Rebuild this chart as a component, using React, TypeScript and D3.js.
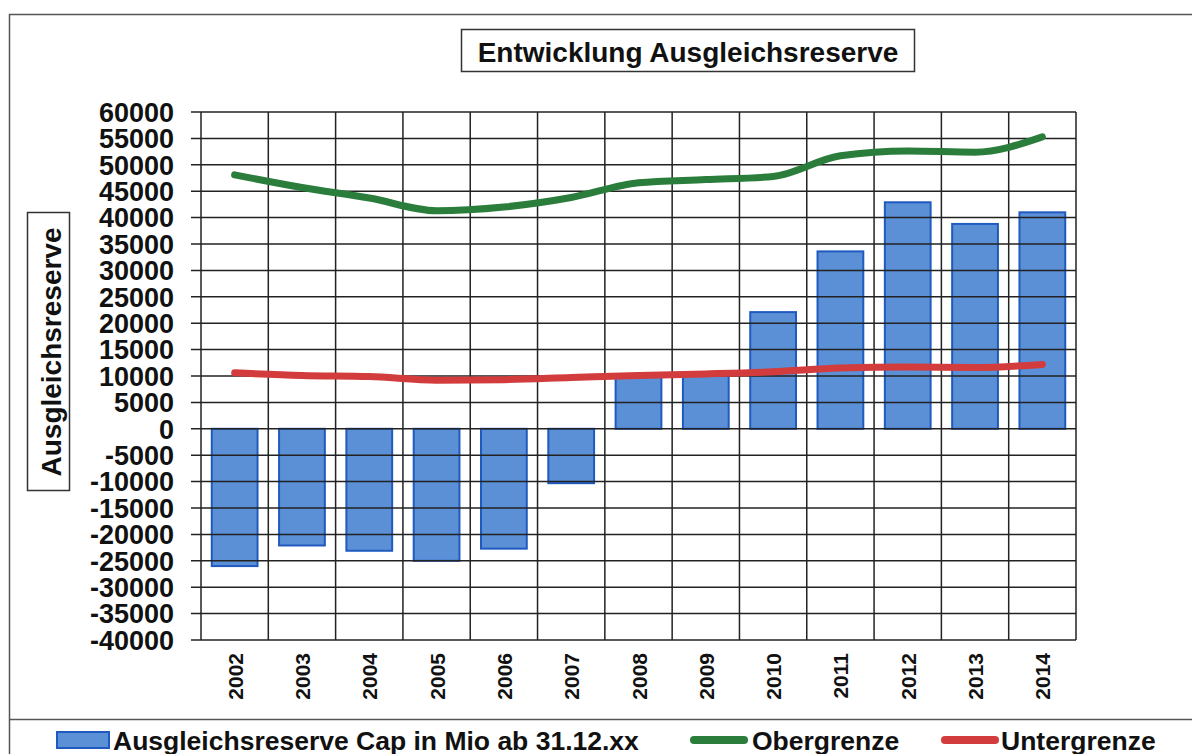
import React from "react";
import { scaleBand, scaleLinear, line, curveMonotoneX, range } from "d3";

const years = ["2002", "2003", "2004", "2005", "2006", "2007", "2008", "2009", "2010", "2011", "2012", "2013", "2014"];
const reserve = [-26000, -22100, -23100, -25000, -22700, -10300, 10000, 10200, 22100, 33600, 42900, 38800, 41000];
const obergrenze = [48100, 45700, 43700, 41300, 42000, 43800, 46600, 47200, 47800, 51700, 52600, 52400, 55300];
const untergrenze = [10600, 10100, 9900, 9200, 9300, 9700, 10100, 10400, 10800, 11500, 11700, 11600, 12200];
const yTicks = range(-40000, 60001, 5000);

const width = 1192;
const height = 754;
const plot = { left: 201, right: 1076, top: 112, bottom: 640 };
const font = "'Liberation Sans', Arial, sans-serif";

const App = () => {
	const xScale = scaleBand().domain(years).range([plot.left, plot.right]).padding(0);
	const yScale = scaleLinear().domain([-40000, 60000]).range([plot.bottom, plot.top]);
	const barW = xScale.bandwidth() * 0.68;
	const cx = (y: string) => (xScale(y) as number) + xScale.bandwidth() / 2;

	const lineGen = line<number>()
		.x((d, i) => cx(years[i]))
		.y((d) => yScale(d))
		.curve(curveMonotoneX);

	return (
		<svg width={width} height={height} style={{ position: "absolute", left: 0, top: 0, background: "#fff" }} fontFamily={font}>
			{/* outer frame + legend separator */}
			<rect x={9.5} y={14.5} width={1200} height={800} fill="none" stroke="#555" strokeWidth={1.5} />
			<line x1={9} x2={1200} y1={719.5} y2={719.5} stroke="#555" strokeWidth={1.5} />

			{/* title */}
			<rect x={461.5} y={29.5} width={453} height={42} fill="#fff" stroke="#333" strokeWidth={1.5} />
			<text x={688} y={62} textAnchor="middle" fontSize={28} fontWeight="bold" fill="#111">
				Entwicklung Ausgleichsreserve
			</text>

			{/* y axis title */}
			<rect x={27.5} y={212.5} width={42} height={278} fill="#fff" stroke="#333" strokeWidth={1.5} />
			<text transform={`translate(61,352) rotate(-90)`} textAnchor="middle" fontSize={28} fontWeight="bold" fill="#111">
				Ausgleichsreserve
			</text>

			{/* bars */}
			{reserve.map((v, i) => (
				<rect
					key={years[i]}
					x={cx(years[i]) - barW / 2}
					y={yScale(Math.max(0, v))}
					width={barW}
					height={Math.abs(yScale(v) - yScale(0))}
					fill="#5b8fd6"
					stroke="#1f5bbf"
					strokeWidth={2}
				/>
			))}

			{/* grid */}
			{yTicks.map((t) => (
				<g key={t}>
					<line x1={plot.left - 10} x2={plot.right} y1={yScale(t)} y2={yScale(t)} stroke="#222" strokeWidth={1.5} />
					<text x={174} y={yScale(t)} dy=".36em" textAnchor="end" fontSize={27} fontWeight="bold" fill="#111">
						{t}
					</text>
				</g>
			))}
			{years.map((y) => (
				<line key={y} x1={xScale(y)} x2={xScale(y)} y1={plot.top} y2={plot.bottom} stroke="#222" strokeWidth={1.5} />
			))}
			<line x1={plot.right} x2={plot.right} y1={plot.top} y2={plot.bottom} stroke="#222" strokeWidth={1.5} />

			{/* lines */}
			<path d={lineGen(obergrenze) || ""} fill="none" stroke="#2b7d3b" strokeWidth={7} strokeLinecap="round" />
			<path d={lineGen(untergrenze) || ""} fill="none" stroke="#d23c3c" strokeWidth={7} strokeLinecap="round" />

			{/* x labels */}
			{years.map((y) => (
				<text key={y} transform={`translate(${cx(y) + 8},653) rotate(-90)`} textAnchor="end" fontSize={21} fontWeight="bold" fill="#111">
					{y}
				</text>
			))}

			{/* legend */}
			<rect x={57} y={732} width={52} height={16} fill="#5b8fd6" stroke="#1f5bbf" strokeWidth={2} />
			<text x={113} y={750} fontSize={26.5} fontWeight="bold" fill="#111">
				Ausgleichsreserve Cap in Mio ab 31.12.xx
			</text>
			<line x1={694} x2={744} y1={740} y2={740} stroke="#2b7d3b" strokeWidth={8} strokeLinecap="round" />
			<text x={752} y={750} fontSize={26.5} fontWeight="bold" fill="#111">
				Obergrenze
			</text>
			<line x1={945} x2={995} y1={740} y2={740} stroke="#d23c3c" strokeWidth={8} strokeLinecap="round" />
			<text x={1001} y={750} fontSize={26.5} fontWeight="bold" fill="#111">
				Untergrenze
			</text>
		</svg>
	);
};

export default App;
